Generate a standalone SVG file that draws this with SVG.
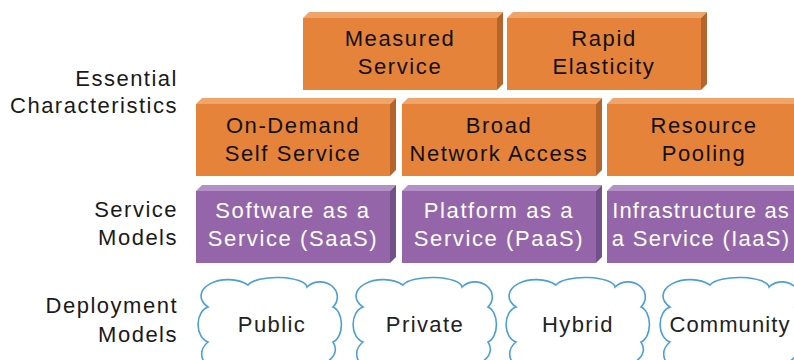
<svg xmlns="http://www.w3.org/2000/svg" xmlns:xlink="http://www.w3.org/1999/xlink" width="794" height="360" viewBox="0 0 794 360">
<style>
  .lbl{font-family:"Liberation Sans",Arial,sans-serif;font-size:22px;letter-spacing:1.5px;fill:#1a1a1a;text-anchor:end}
  .bt{font-family:"Liberation Sans",Arial,sans-serif;font-size:22px;letter-spacing:1.6px;text-anchor:middle}
  .ot{fill:#111111}
  .pt{fill:#ffffff}
  .ct{font-family:"Liberation Sans",Arial,sans-serif;font-size:22px;letter-spacing:1.4px;text-anchor:middle;fill:#222222}
  .cloud{fill:#ffffff;stroke:#4b9fd5;stroke-width:1.6}
</style>
<defs>
  <g id="obox">
    <polygon points="0,0 6,-6 200,-6 194,0" fill="#f0a46a"/>
    <polygon points="194,0 200,-6 200,66 194,72" fill="#b5652b"/>
    <rect x="0" y="0" width="194" height="72" fill="#e5833a"/>
  </g>
  <g id="pbox">
    <polygon points="0,0 6,-6 200,-6 194,0" fill="#b391c6"/>
    <polygon points="194,0 200,-6 200,66 194,72" fill="#74508a"/>
    <rect x="0" y="0" width="194" height="72" fill="#9466a9"/>
  </g>
  <path id="cl" class="cloud" d="M13,64 A13,18 0 0 1 13,29 A23,14 0 0 1 53,7 A30,10 0 0 1 112,9 A16,14 0 0 1 138,29 A11,18 0 0 1 138,64 A22,16 0 0 1 110,86 A30,14 0 0 1 50,88 A22,16 0 0 1 13,64 Z"/>
</defs>

<g id="labels">
  <text class="lbl" x="178" y="86">Essential</text>
  <text class="lbl" x="178" y="113">Characteristics</text>
  <text class="lbl" x="178" y="217">Service</text>
  <text class="lbl" x="178" y="245">Models</text>
  <text class="lbl" x="178" y="313">Deployment</text>
  <text class="lbl" x="178" y="342">Models</text>
</g>

<g id="measured-service">
  <use xlink:href="#obox" transform="translate(303,18)"/>
  <text class="bt ot" x="400" y="46">Measured</text>
  <text class="bt ot" x="400" y="74">Service</text>
</g>
<g id="rapid-elasticity">
  <use xlink:href="#obox" transform="translate(507,18)"/>
  <text class="bt ot" x="604" y="46">Rapid</text>
  <text class="bt ot" x="604" y="74">Elasticity</text>
</g>

<g id="on-demand">
  <use xlink:href="#obox" transform="translate(196,104)"/>
  <text class="bt ot" x="293" y="133">On-Demand</text>
  <text class="bt ot" x="293" y="161">Self Service</text>
</g>
<g id="broad-network">
  <use xlink:href="#obox" transform="translate(402,104)"/>
  <text class="bt ot" x="499" y="133">Broad</text>
  <text class="bt ot" x="499" y="161">Network Access</text>
</g>
<g id="resource-pooling">
  <use xlink:href="#obox" transform="translate(607,104)"/>
  <text class="bt ot" x="704" y="133">Resource</text>
  <text class="bt ot" x="704" y="161">Pooling</text>
</g>

<g id="saas">
  <use xlink:href="#pbox" transform="translate(196,191)"/>
  <text class="bt pt" x="293" y="218">Software as a</text>
  <text class="bt pt" x="293" y="246">Service (SaaS)</text>
</g>
<g id="paas">
  <use xlink:href="#pbox" transform="translate(402,191)"/>
  <text class="bt pt" x="499" y="218">Platform as a</text>
  <text class="bt pt" x="499" y="246">Service (PaaS)</text>
</g>
<g id="iaas">
  <use xlink:href="#pbox" transform="translate(607,191)"/>
  <text class="bt pt" x="701" y="218" style="letter-spacing:1.1px">Infrastructure as</text>
  <text class="bt pt" x="701" y="246" style="letter-spacing:1.3px">a Service (IaaS)</text>
</g>

<g id="public">
  <use xlink:href="#cl" transform="translate(195,278)"/>
  <text class="ct" x="272" y="332">Public</text>
</g>
<g id="private">
  <use xlink:href="#cl" transform="translate(350,278)"/>
  <text class="ct" x="425" y="332">Private</text>
</g>
<g id="hybrid">
  <use xlink:href="#cl" transform="translate(503,278)"/>
  <text class="ct" x="578" y="332">Hybrid</text>
</g>
<g id="community">
  <use xlink:href="#cl" transform="translate(657,278)"/>
  <text class="ct" x="730" y="332" style="letter-spacing:1.1px">Community</text>
</g>
<g id="connectors"/>
</svg>
